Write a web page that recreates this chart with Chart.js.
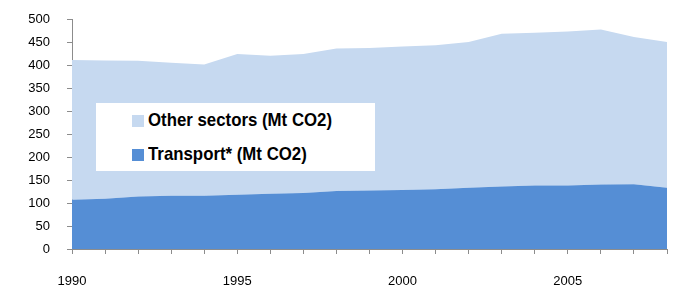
<!DOCTYPE html>
<html>
<head>
<meta charset="utf-8">
<script src="https://cdn.jsdelivr.net/npm/chart.js@4/dist/chart.umd.min.js"></script>
<style>
  html, body { margin: 0; padding: 0; background: #fff; }
  .wrap { position: relative; width: 678px; height: 294px; }
  .legend-box {
    position: absolute; left: 96px; top: 103px; width: 279px; height: 68px;
    background: #fff;
  }
  .legend-item {
    position: absolute; left: 36px; height: 22px;
    font-family: "Liberation Sans", Arial, sans-serif;
    font-weight: bold; font-size: 19px; color: #000; line-height: 22px;
    white-space: nowrap;
  }
  .legend-item .sw {
    display: inline-block; width: 12px; height: 12px; margin-right: 4px;
    vertical-align: -1px;
  }
  .legend-item .txt {
    display: inline-block; transform: scaleX(0.885); transform-origin: left center;
  }
</style>
</head>
<body>
<div class="wrap">
  <canvas id="chart" width="678" height="294"></canvas>
  <div class="legend-box">
    <div class="legend-item" style="top: 6px;"><span class="sw" style="background:#c6d9f0"></span><span class="txt">Other sectors (Mt CO2)</span></div>
    <div class="legend-item" style="top: 40px;"><span class="sw" style="background:#558ed5"></span><span class="txt">Transport* (Mt CO2)</span></div>
  </div>
</div>
<script>
// Years on the x axis
const years = [1990, 1991, 1992, 1993, 1994, 1995, 1996, 1997, 1998, 1999,
               2000, 2001, 2002, 2003, 2004, 2005, 2006, 2007, 2008];

// Mt CO2
const transport = [107, 109, 114, 116, 116, 118, 120, 122, 126, 127,
                   128, 130, 133, 136, 138, 138, 140, 141, 133];
const otherSectors = [304, 301, 295, 289, 285, 306, 300, 302, 310, 310,
                      312, 313, 317, 332, 332, 335, 337, 320, 317];

const yTicks = [0, 50, 100, 150, 200, 250, 300, 350, 400, 450, 500];

const axisColor = '#8c8c8c';
const tickFont = { family: 'Liberation Sans, Arial, sans-serif', size: 13 };

new Chart(document.getElementById('chart'), {
  type: 'line',
  data: {
    labels: years,
    datasets: [
      {
        label: 'Transport* (Mt CO2)',
        data: transport,
        backgroundColor: '#558ed5',
        borderWidth: 0,
        pointRadius: 0,
        fill: 'origin',
        tension: 0
      },
      {
        label: 'Other sectors (Mt CO2)',
        data: otherSectors,
        backgroundColor: '#c6d9f0',
        borderWidth: 0,
        pointRadius: 0,
        fill: '-1',
        tension: 0
      }
    ]
  },
  options: {
    responsive: false,
    animation: false,
    layout: { padding: { left: 0, right: 11, top: 19, bottom: 0 } },
    plugins: { legend: { display: false }, tooltip: { enabled: false } },
    scales: {
      x: {
        type: 'category',
        offset: false,
        grid: { display: true, drawOnChartArea: false, drawTicks: true, tickLength: 5, color: axisColor },
        border: { display: true, color: axisColor, width: 1 },
        ticks: {
          autoSkip: false, maxRotation: 0, color: '#000', font: tickFont, padding: 20,
          callback: function (v, i) { return years[i] % 5 === 0 ? String(years[i]) : ''; }
        },
        afterFit: function (s) { s.height = 45; s.paddingLeft = 0; s.paddingRight = 0; }
      },
      y: {
        stacked: true,
        min: 0, max: 500,
        afterBuildTicks: function (s) { s.ticks = yTicks.map(v => ({ value: v })); },
        grid: { display: true, drawOnChartArea: false, drawTicks: true, tickLength: 5, color: axisColor },
        border: { display: true, color: axisColor, width: 1 },
        ticks: { color: '#000', font: tickFont, padding: 17 },
        afterFit: function (s) { s.width = 72; s.paddingTop = 0; s.paddingBottom = 0; }
      }
    }
  }
});
</script>
</body>
</html>
